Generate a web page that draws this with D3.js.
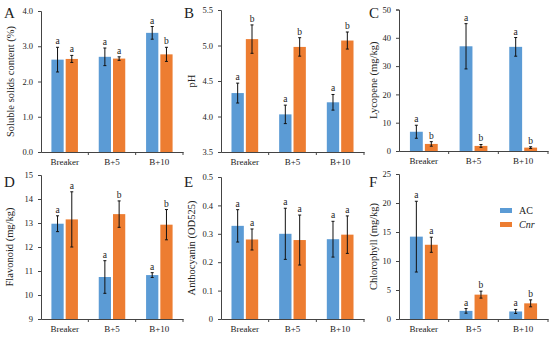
<!DOCTYPE html>
<html>
<head>
<meta charset="utf-8">
<script src="https://cdn.jsdelivr.net/npm/d3@7"></script>
<style>
  body { margin: 0; background: #fff; }
  svg text { font-family: "Liberation Serif", "Times New Roman", serif !important; fill: #222; }
</style>
</head>
<body>
<svg id="chart" width="550" height="337"></svg>
<script>
// categories and series
var stages = ["Breaker", "B+5", "B+10"];
var series = ["AC", "Cnr"];
var colors = ["#5B9BD5", "#ED7D31"];

// panel values: [AC, Cnr] per stage
var solidsMean = [[2.62, 2.64], [2.70, 2.65], [3.38, 2.77]];
var solidsErr  = [[0.35, 0.10], [0.25, 0.05], [0.18, 0.20]];
var solidsSig  = [["a", "a"], ["a", "a"], ["a", "b"]];

var phMean = [[4.33, 5.09], [4.03, 4.98], [4.20, 5.07]];
var phErr  = [[0.14, 0.20], [0.13, 0.13], [0.11, 0.12]];
var phSig  = [["a", "b"], ["a", "b"], ["a", "b"]];

var lycoMean = [[6.8, 2.5], [37.0, 1.8], [36.8, 1.2]];
var lycoErr  = [[2.3, 0.8], [8.0, 0.5], [3.3, 0.3]];
var lycoSig  = [["a", "b"], ["a", "b"], ["a", "b"]];

var flavMean = [[12.97, 13.15], [10.75, 13.37], [10.83, 12.93]];
var flavErr  = [[0.33, 1.15], [0.68, 0.55], [0.10, 0.63]];
var flavSig  = [["a", "a"], ["a", "b"], ["a", "b"]];

var anthoMean = [[0.328, 0.280], [0.300, 0.278], [0.281, 0.297]];
var anthoErr  = [[0.057, 0.037], [0.090, 0.088], [0.063, 0.066]];
var anthoSig  = [["a", "a"], ["a", "a"], ["a", "a"]];

var chloMean = [[14.2, 12.8], [1.4, 4.2], [1.3, 2.7]];
var chloErr  = [[6.1, 1.3], [0.4, 0.6], [0.35, 0.6]];
var chloSig  = [["a", "a"], ["a", "b"], ["a", "b"]];

// tick labels
var solidsTicks = [0, 1, 2, 3, 4];
var phTicks = [3.5, 4.0, 4.5, 5.0, 5.5];
var lycoTicks = [0, 10, 20, 30, 40, 50];
var flavTicks = [9, 10, 11, 12, 13, 14, 15];
var anthoTicks = [0, 0.1, 0.2, 0.3, 0.4, 0.5];
var chloTicks = [0, 5, 10, 15, 20, 25];

var svg = d3.select("#chart");
var serif = "'Liberation Serif', 'Times New Roman', serif";

var panels = [
  {letter: "A", title: "Soluble solids content (%)", mean: solidsMean, err: solidsErr, sig: solidsSig,
   ticks: solidsTicks, fmt: d3.format(".1f"), x0: 41, x1: 183, y0: 152, y1: 11, lx: 4, ly: 18, tx: 10},
  {letter: "B", title: "pH", mean: phMean, err: phErr, sig: phSig,
   ticks: phTicks, fmt: d3.format(".1f"), x0: 221, x1: 364, y0: 152, y1: 10, lx: 184, ly: 18, tx: 191},
  {letter: "C", title: "Lycopene (mg/kg)", mean: lycoMean, err: lycoErr, sig: lycoSig,
   ticks: lycoTicks, fmt: d3.format("d"), x0: 399, x1: 548, y0: 151, y1: 9.5, lx: 369, ly: 18, tx: 373},
  {letter: "D", title: "Flavonoid (mg/kg)", mean: flavMean, err: flavErr, sig: flavSig,
   ticks: flavTicks, fmt: d3.format("d"), x0: 41, x1: 183, y0: 319, y1: 175, lx: 4, ly: 187, tx: 9},
  {letter: "E", title: "Anthocyanin (OD525)", mean: anthoMean, err: anthoErr, sig: anthoSig,
   ticks: anthoTicks, fmt: function(d) { return d === 0 ? "0" : d3.format(".1f")(d); },
   x0: 221, x1: 364, y0: 319, y1: 177, lx: 184, ly: 187, tx: 191},
  {letter: "F", title: "Chlorophyll (mg/kg)", mean: chloMean, err: chloErr, sig: chloSig,
   ticks: chloTicks, fmt: d3.format("d"), x0: 399, x1: 548, y0: 319, y1: 174, lx: 369, ly: 187, tx: 373}
];

panels.forEach(function(p) {
  var g = svg.append("g").attr("font-family", serif);
  var x = d3.scaleBand().domain(stages).range([p.x0, p.x1]);
  var xs = d3.scaleBand().domain(series)
    .range([x.bandwidth() * 0.22, x.bandwidth() * 0.78]).paddingInner(0.14);
  var y = d3.scaleLinear().domain([p.ticks[0], p.ticks[p.ticks.length - 1]]).range([p.y0, p.y1]);

  // y axis
  var ya = g.append("g").attr("transform", "translate(" + p.x0 + ",0)")
    .call(d3.axisLeft(y).tickValues(p.ticks).tickFormat(p.fmt).tickSize(3).tickPadding(5));
  ya.attr("font-family", serif);
  ya.select(".domain").attr("stroke", "#444");
  ya.selectAll(".tick line").attr("stroke", "#444");
  ya.selectAll("text").style("font-size", "8.5px");

  // x axis
  var xa = g.append("g").attr("transform", "translate(0," + p.y0 + ")")
    .call(d3.axisBottom(x).tickSize(0).tickPadding(7));
  xa.attr("font-family", serif);
  xa.select(".domain").attr("stroke", "#444");
  xa.selectAll("text").style("font-size", "9px");
  g.selectAll(".sep").data(stages).enter().append("line")
    .attr("x1", function(d) { return x(d) + x.bandwidth(); })
    .attr("x2", function(d) { return x(d) + x.bandwidth(); })
    .attr("y1", p.y0).attr("y2", p.y0 + 3).attr("stroke", "#444");

  // bars
  var rows = [];
  stages.forEach(function(s, i) {
    series.forEach(function(k, j) {
      rows.push({stage: s, key: k, j: j, v: p.mean[i][j], e: p.err[i][j], sig: p.sig[i][j]});
    });
  });
  g.selectAll(".bar").data(rows).enter().append("rect")
    .attr("x", function(d) { return x(d.stage) + xs(d.key); })
    .attr("width", xs.bandwidth())
    .attr("y", function(d) { return y(d.v); })
    .attr("height", function(d) { return p.y0 - y(d.v); })
    .attr("fill", function(d) { return colors[d.j]; });

  // error bars
  var cx = function(d) { return x(d.stage) + xs(d.key) + xs.bandwidth() / 2; };
  g.selectAll(".eb").data(rows).enter().append("line")
    .attr("x1", cx).attr("x2", cx)
    .attr("y1", function(d) { return y(d.v - d.e); })
    .attr("y2", function(d) { return y(d.v + d.e); })
    .attr("stroke", "#111").attr("stroke-width", 1);
  [-1, 1].forEach(function(sgn) {
    g.selectAll(".cap").data(rows).enter().append("line")
      .attr("x1", function(d) { return cx(d) - 1.5; })
      .attr("x2", function(d) { return cx(d) + 1.5; })
      .attr("y1", function(d) { return y(d.v + sgn * d.e); })
      .attr("y2", function(d) { return y(d.v + sgn * d.e); })
      .attr("stroke", "#111").attr("stroke-width", 1);
  });

  // significance letters
  g.selectAll(".sig").data(rows).enter().append("text")
    .attr("x", cx)
    .attr("y", function(d) { return y(d.v + d.e) - 3; })
    .attr("text-anchor", "middle")
    .style("font-size", "9.5px")
    .text(function(d) { return d.sig; });

  // y title
  g.append("text")
    .attr("transform", "translate(" + p.tx + "," + ((p.y0 + p.y1) / 2) + ") rotate(-90)")
    .attr("text-anchor", "middle").attr("dy", "0.35em")
    .style("font-size", "10.5px")
    .text(p.title);

  // panel letter
  g.append("text").attr("x", p.lx).attr("y", p.ly)
    .style("font-size", "15px").text(p.letter);
});

// legend in panel F
var legend = svg.append("g").attr("transform", "translate(500,208)").attr("font-family", serif);
series.forEach(function(k, i) {
  legend.append("rect").attr("x", 0).attr("y", i * 14).attr("width", 12).attr("height", 5)
    .attr("fill", colors[i]);
  legend.append("text").attr("x", 19).attr("y", i * 14 + 5.5)
    .style("font-size", "10px")
    .style("font-style", i === 1 ? "italic" : "normal")
    .text(k);
});
</script>
</body>
</html>
